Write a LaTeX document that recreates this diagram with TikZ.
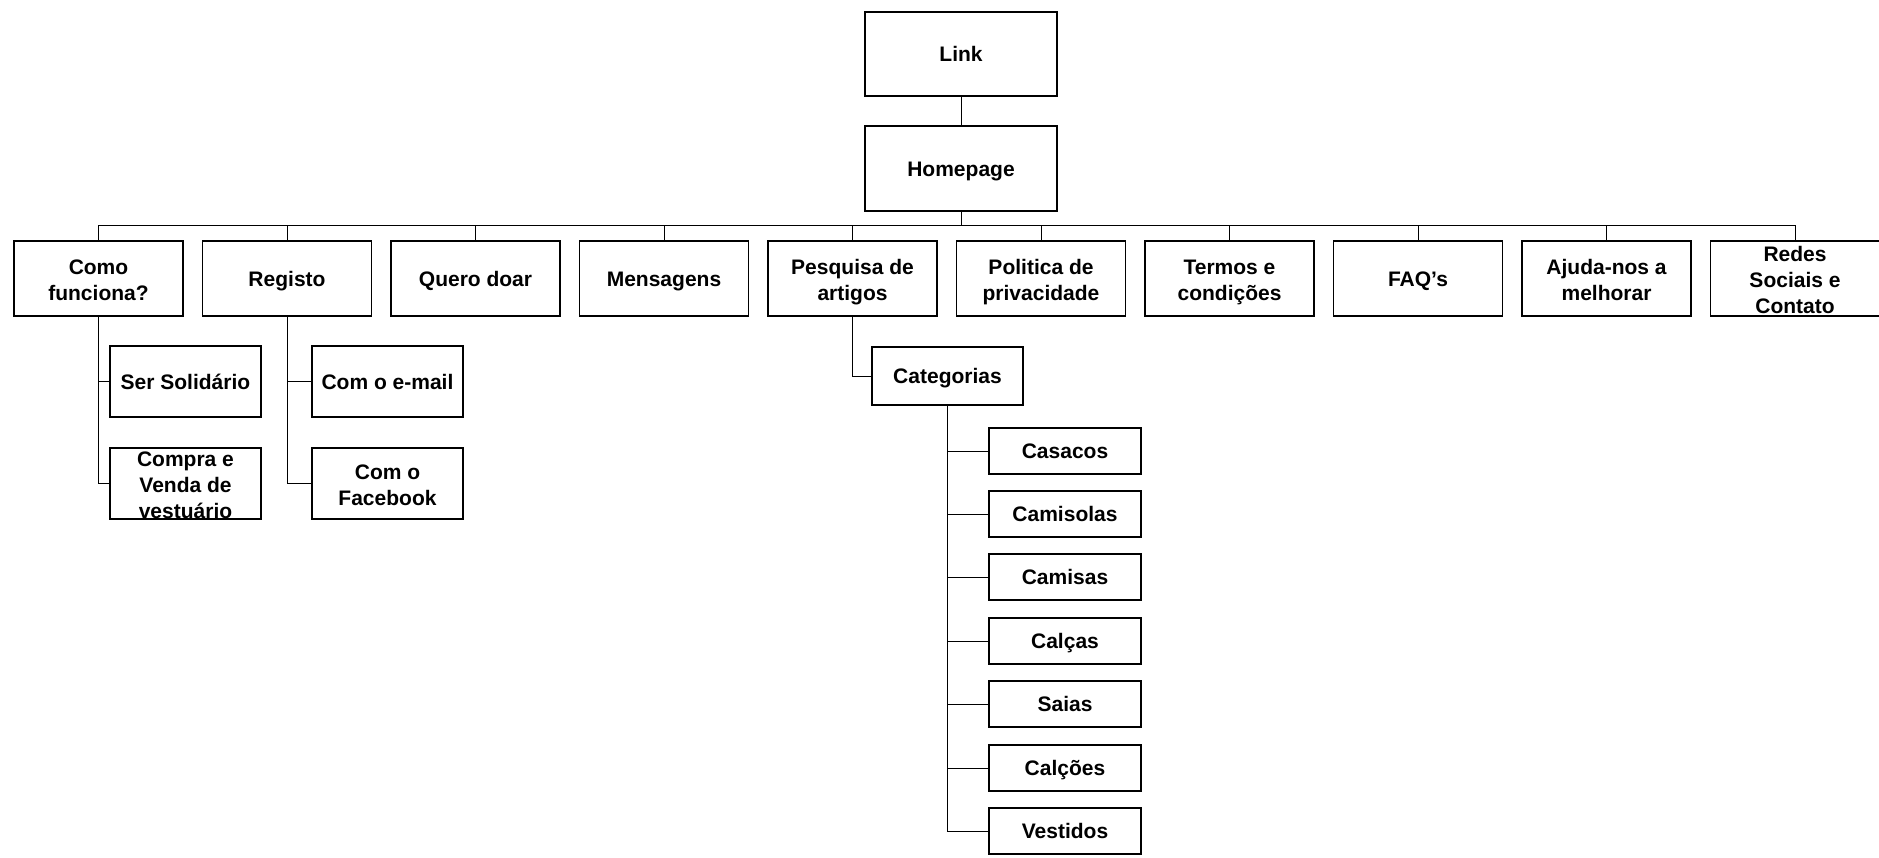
\documentclass[tikz,border=0pt]{standalone}
\usepackage{fontspec}
\setmainfont{Liberation Sans}
\newcommand{\fl}{\rule{0pt}{22pt}}
\begin{document}
\begin{tikzpicture}[x=1pt,y=-1pt,
  box/.style={draw=black, line width=1.6pt, inner xsep=0pt, inner ysep=-10pt, align=center,
    font=\bfseries\fontsize{21}{26}\selectfont,
    execute at begin node={\rule{0pt}{20.5pt}},
    execute at end node={\rule[-5pt]{0pt}{5pt}}},
  topbox/.style={box, minimum width=169pt, minimum height=75pt},
  subbox/.style={box, minimum width=151pt, minimum height=71pt},
  catbox/.style={box, minimum width=152pt, minimum height=46pt},
  conn/.style={draw=black, line width=1pt}]
\useasboundingbox (0,0) rectangle (1879,857);
\node[box, minimum width=192pt, minimum height=84pt] (link) at (961,54) {Link};
\node[box, minimum width=192pt, minimum height=85pt] (home) at (961,168.5) {Homepage};
% top row
\node[topbox] (como) at (98.5,278.5) {\fl Como\\funciona?};
\node[topbox] (reg) at (287,278.5) {Registo};
\node[topbox] (doar) at (475.5,278.5) {Quero doar};
\node[topbox] (msg) at (664,278.5) {Mensagens};
\node[topbox] (pesq) at (852.5,278.5) {\fl Pesquisa de\\artigos};
\node[topbox] (pol) at (1041,278.5) {\fl Politica de\\privacidade};
\node[topbox] (termos) at (1229.5,278.5) {\fl Termos e\\condições};
\node[topbox] (faq) at (1418,278.5) {FAQ’s};
\node[topbox] (ajuda) at (1606.5,278.5) {\fl Ajuda-nos a\\melhorar};
\node[topbox] (redes) at (1795,278.5) {\fl Redes\\Sociais e\\Contato};
% second level
\node[subbox] (ser) at (185.5,381.5) {Ser Solidário};
\node[subbox] (compra) at (185.5,483.5) {\fl Compra e\\Venda de\\vestuário};
\node[subbox] (email) at (387.5,381.5) {Com o e-mail};
\node[subbox] (fb) at (387.5,483.5) {\fl Com o\\Facebook};
\node[box, minimum width=151pt, minimum height=58pt] (cat) at (947.5,376) {Categorias};
% categories
\node[catbox] (c1) at (1065,451) {Casacos};
\node[catbox] (c2) at (1065,514) {Camisolas};
\node[catbox] (c3) at (1065,577) {Camisas};
\node[catbox] (c4) at (1065,641) {Calças};
\node[catbox] (c5) at (1065,704) {Saias};
\node[catbox] (c6) at (1065,768) {Calções};
\node[catbox] (c7) at (1065,831) {Vestidos};
% connectors
\coordinate (bus) at (961,225);
\draw[conn] (link.south) -- (home.north);
\draw[conn] (home.south) -- (bus);
\draw[conn] (bus -| como.north) -- (bus -| redes.north);
\foreach \n in {como,reg,doar,msg,pesq,pol,termos,faq,ajuda,redes}
  \draw[conn] (bus -| \n.north) -- (\n.north);
\draw[conn] (como.south) |- (ser.west);
\draw[conn] (como.south) |- (compra.west);
\draw[conn] (reg.south) |- (email.west);
\draw[conn] (reg.south) |- (fb.west);
\draw[conn] (pesq.south) |- (cat.west);
\foreach \n in {c1,c2,c3,c4,c5,c6,c7}
  \draw[conn] (cat.south) |- (\n.west);
\end{tikzpicture}
\end{document}
